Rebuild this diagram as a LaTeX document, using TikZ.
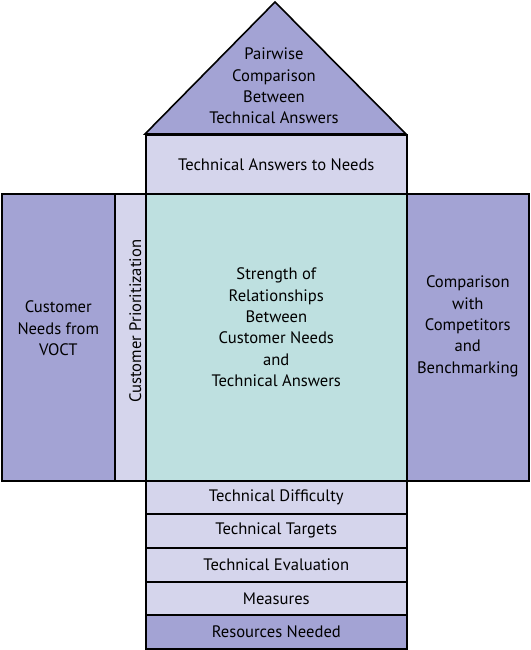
\documentclass[tikz,border=0pt]{standalone}
\usepackage{fontspec}
\setmainfont{PT Sans}
\usetikzlibrary{calc}
\definecolor{dkpurple}{HTML}{A3A3D4}
\definecolor{ltpurple}{HTML}{D5D5EC}
\definecolor{ltteal}{HTML}{BEE0E0}

\begin{document}
\begin{tikzpicture}[
        x=1pt, y=-1pt,
        box/.style={draw=black, line width=1.6pt, rectangle, inner sep=0pt, anchor=north west},
        txt/.style={align=center, font=\fontsize{16.6}{21.3}\selectfont},
    ]
    \useasboundingbox (0,0) rectangle (530,650);

    % Roof
    \coordinate (apex) at (275,2);
    \coordinate (eaveL) at (145,134);
    \coordinate (eaveR) at (406,134);
    \filldraw[fill=dkpurple, line width=1.6pt, line join=miter] (eaveL) -- (apex) -- (eaveR) -- cycle;
    \node[txt] (pairwise) at (274,86) {Pairwise\\Comparison\\Between\\Technical Answers};

    % Ceiling: technical answers
    \node[box, fill=ltpurple, minimum width=261pt, minimum height=59pt, txt] (answers) at (145,134) {Technical Answers to Needs};

    % Middle floor
    \node[box, fill=dkpurple, minimum width=113pt, minimum height=287pt] (needs) at (1,193) {};
    \node[box, fill=ltpurple, minimum width=31pt, minimum height=287pt] (prio) at (114,193) {};
    \node[box, fill=ltteal, minimum width=261pt, minimum height=287pt] (matrix) at (145,193) {};
    \node[box, fill=dkpurple, minimum width=122pt, minimum height=287pt] (bench) at (406,193) {};

    \node[txt] (needstxt) at ($(needs.center)+(0,-9)$) {Customer\\Needs from\\VOCT};
    \node[txt, rotate=90] (priotxt) at ($(prio.center)+(5,-16)$) {Customer Prioritization};
    \node[txt] (matrixtxt) at ($(matrix.center)+(0,-10)$) {Strength of\\Relationships\\Between\\Customer Needs\\and\\Technical Answers};
    \node[txt] (benchtxt) at ($(bench.center)+(0,-11)$) {Comparison\\with\\Competitors\\and\\Benchmarking};

    % Basement rows
    \foreach \name/\y/\h/\col/\lbl in {
            difficulty/480/33/ltpurple/Technical Difficulty,
            targets/513/34/ltpurple/Technical Targets,
            evaluation/547/34/ltpurple/Technical Evaluation,
            measures/581/33/ltpurple/Measures,
            resources/614/34/dkpurple/Resources Needed}
    \node[box, fill=\col, minimum width=261pt, minimum height=\h pt, txt] (\name) at (145,\y) {\lbl};
\end{tikzpicture}
\end{document}
